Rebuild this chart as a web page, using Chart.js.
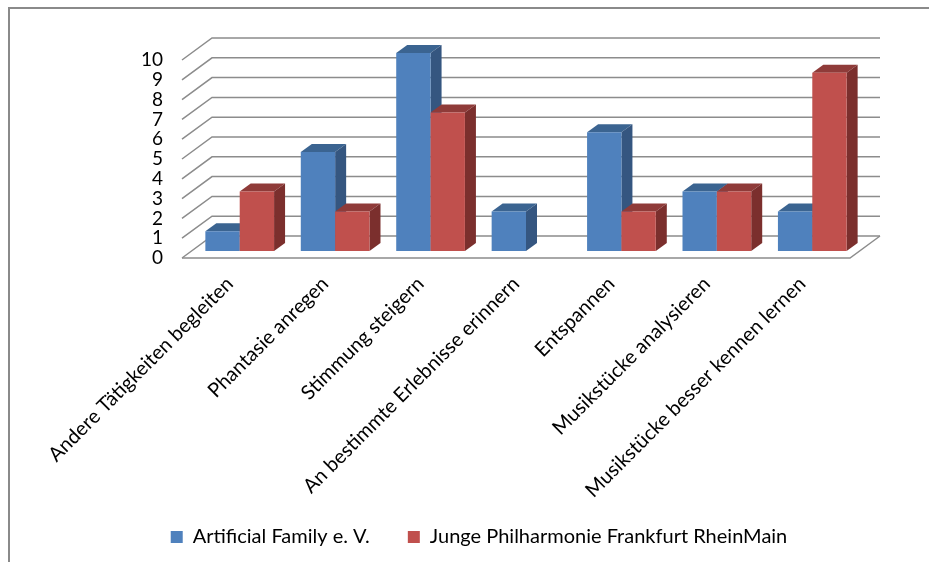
<!DOCTYPE html>
<html>
<head>
<meta charset="utf-8">
<title>Musiknutzung</title>
<script src="https://cdn.jsdelivr.net/npm/chart.js@4/dist/chart.umd.min.js"></script>
<style>
	html, body { margin: 0; padding: 0; background: #fff; }
	#wrap { width: 929px; height: 562px; }
</style>
</head>
<body>
<div id="wrap"><canvas id="chart" width="929" height="562"></canvas></div>
<script>
const categories = [
	"Andere Tätigkeiten begleiten",
	"Phantasie anregen",
	"Stimmung steigern",
	"An bestimmte Erlebnisse erinnern",
	"Entspannen",
	"Musikstücke analysieren",
	"Musikstücke besser kennen lernen",
];
const artificialFamily = [1, 5, 10, 2, 6, 3, 2];
const jungePhilharmonie = [3, 2, 7, 0, 2, 3, 9];
const yTicks = [0, 1, 2, 3, 4, 5, 6, 7, 8, 9, 10];

// depth of the fake 3D box: back wall and bar offsets from the front plane
const wallDx = 30, wallDy = -22;
const barDx = 10, barDy = -7;
const faceDx = 11, faceDy = -8;
const gridColor = "#8c8c8c";

function drawFaces(ctx, ds, meta) {
	meta.data.forEach((bar, i) => {
		if (!ds.data[i]) return;
		const half = bar.width / 2;
		const l = bar.x - half, r = bar.x + half;
		ctx.fillStyle = ds.topColor;
		ctx.beginPath();
		ctx.moveTo(l, bar.y);
		ctx.lineTo(l + faceDx, bar.y + faceDy);
		ctx.lineTo(r + faceDx, bar.y + faceDy);
		ctx.lineTo(r, bar.y);
		ctx.closePath();
		ctx.fill();
		ctx.fillStyle = ds.sideColor;
		ctx.beginPath();
		ctx.moveTo(r, bar.y);
		ctx.lineTo(r + faceDx, bar.y + faceDy);
		ctx.lineTo(r + faceDx, bar.base + faceDy);
		ctx.lineTo(r, bar.base);
		ctx.closePath();
		ctx.fill();
	});
}

// frame, walls and floor, then the bars from left to right so each one
// covers the side face of its left neighbour
const boxPlugin = {
	id: "box",
	// long rotated labels run past the axis box, which would clip them
	afterLayout(chart) {
		chart.scales.x.bottom = 515;
	},
	beforeDatasetsDraw(chart) {
		const { ctx, chartArea: a, scales } = chart;
		ctx.save();
		ctx.strokeStyle = "#8a8a8a";
		ctx.lineWidth = 2;
		ctx.beginPath();
		ctx.moveTo(929, 8);
		ctx.lineTo(9, 8);
		ctx.lineTo(9, 562);
		ctx.stroke();

		ctx.strokeStyle = gridColor;
		ctx.lineWidth = 1.5;
		yTicks.forEach((v) => {
			const y = scales.y.getPixelForValue(v);
			ctx.beginPath();
			ctx.moveTo(a.left, y);
			ctx.lineTo(a.left + wallDx, y + wallDy);
			ctx.lineTo(a.right + wallDx, y + wallDy);
			ctx.stroke();
		});
		// floor front edge and right edge
		ctx.beginPath();
		ctx.moveTo(a.left, a.bottom);
		ctx.lineTo(a.right, a.bottom);
		ctx.lineTo(a.right + wallDx, a.bottom + wallDy);
		ctx.stroke();

		ctx.translate(barDx, barDy);
		chart.data.datasets.forEach((ds, index) => {
			const meta = chart.getDatasetMeta(index);
			drawFaces(ctx, ds, meta);
			meta.controller.draw();
		});
		ctx.restore();
		return false;
	},
};

new Chart(document.getElementById("chart"), {
	type: "bar",
	data: {
		labels: categories,
		datasets: [
			{
				label: "Artificial Family e. V.",
				data: artificialFamily,
				backgroundColor: "#4F81BD",
				topColor: "#3B6491",
				sideColor: "#355680",
			},
			{
				label: "Junge Philharmonie Frankfurt RheinMain",
				data: jungePhilharmonie,
				backgroundColor: "#C0504D",
				topColor: "#8F3B39",
				sideColor: "#7B2F2D",
			},
		],
	},
	options: {
		responsive: false,
		animation: false,
		events: [],
		categoryPercentage: 0.72,
		barPercentage: 1,
		layout: { padding: { left: 108, right: 79, top: 60, bottom: 5 } },
		scales: {
			x: {
				grid: { display: false, drawTicks: false },
				border: { display: false },
				afterFit(scale) { scale.height = 231; },
				ticks: {
					autoSkip: false,
					minRotation: 45,
					maxRotation: 45,
					padding: 14,
					color: "#000",
					font: { family: "Lato, 'Open Sans', sans-serif", size: 20 },
				},
			},
			y: {
				min: 0,
				max: 10,
				grid: { display: false, drawTicks: false },
				border: { display: false },
				afterFit(scale) { scale.width = 74; },
				afterBuildTicks(scale) { scale.ticks = yTicks.map((value) => ({ value })); },
				ticks: {
					autoSkip: false,
					padding: 19,
					color: "#000",
					font: { family: "Lato, 'Open Sans', sans-serif", size: 19 },
				},
			},
		},
		plugins: {
			tooltip: { enabled: false },
			legend: {
				position: "bottom",
				labels: {
					boxWidth: 12,
					boxHeight: 12,
					padding: 38,
					color: "#000",
					font: { family: "Lato, 'Open Sans', sans-serif", size: 20 },
				},
			},
		},
	},
	plugins: [boxPlugin],
});
</script>
</body>
</html>
